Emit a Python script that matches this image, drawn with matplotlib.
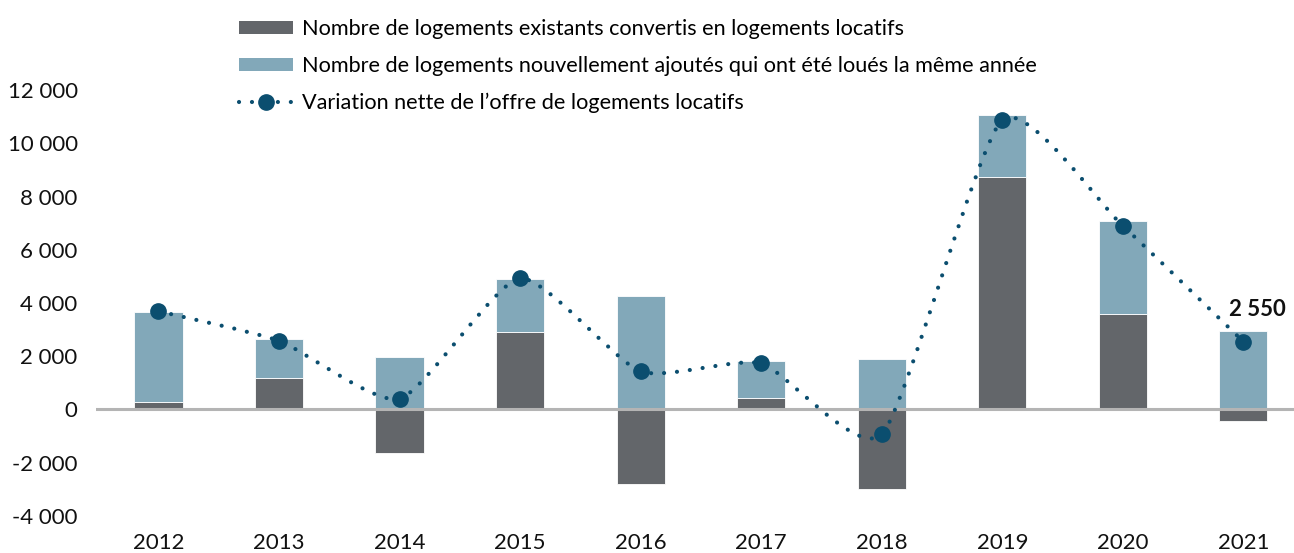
import matplotlib
matplotlib.use("Agg")
import matplotlib.pyplot as plt
import numpy as np
from matplotlib.lines import Line2D
from matplotlib.patches import Patch, PathPatch
from matplotlib.path import Path

plt.rcParams["font.family"] = ["Lato", "DejaVu Sans"]

years = ["2012", "2013", "2014", "2015", "2016", "2017", "2018", "2019", "2020", "2021"]
existing = [280, 1190, -1640, 2910, -2800, 420, -2990, 8750, 3600, -450]
new_rented = [3400, 1470, 1970, 2010, 4260, 1390, 1880, 2300, 3470, 2950]
net_change = [3690, 2580, 400, 4930, 1430, 1730, -930, 10880, 6900, 2550]

labels = [
    "Nombre de logements existants convertis en logements locatifs",
    "Nombre de logements nouvellement ajoutés qui ont été loués la même année",
    "Variation nette de l\u2019offre de logements locatifs",
]

DARK = "#63666a"
LIGHT = "#82a8b9"
LINE = "#0b4e6f"

fig = plt.figure(figsize=(12.94, 5.53), dpi=100)
ax = fig.add_axes([0.074, 0.067, 0.926, 0.77])

x = np.arange(len(years))
width = 0.40
base = np.clip(existing, 0, None)

ax.bar(x, existing, width, color=DARK, edgecolor="white", linewidth=0.6, zorder=2)
ax.bar(x, new_rented, width, bottom=base, color=LIGHT, edgecolor="white", linewidth=0.6, zorder=2)
ax.axhline(0, color="#b4b4b4", linewidth=2.2, zorder=3)

# lightly smoothed dotted line through the data points
pts = np.column_stack([x, net_change]).astype(float)
k = 1 / 10
verts = [pts[0]]
codes = [Path.MOVETO]
for i in range(len(pts) - 1):
    p0 = pts[max(i - 1, 0)]
    p1 = pts[i]
    p2 = pts[i + 1]
    p3 = pts[min(i + 2, len(pts) - 1)]
    verts += [p1 + (p2 - p0) * k, p2 - (p3 - p1) * k, p2]
    codes += [Path.CURVE4] * 3
curve = PathPatch(Path(verts, codes), facecolor="none", edgecolor=LINE, linewidth=3,
                  linestyle=(0, (0.01, 3.1)), capstyle="round", zorder=4)
ax.add_patch(curve)
ax.plot(x, net_change, linestyle="none", marker="o", markersize=11,
        color=LINE, zorder=5)

ax.annotate("2 550", (x[-1], net_change[-1]), xytext=(10, 23), textcoords="offset points",
            ha="center", va="center", fontsize=16, fontweight="bold", color="#111111")

ax.set_xlim(-0.52, 9.42)
ax.set_ylim(-4000, 12000)
ax.set_yticks(range(-4000, 12001, 2000))
ax.set_yticklabels([f"{v:,}".replace(",", " ") for v in range(-4000, 12001, 2000)])
ax.set_xticks(x)
ax.set_xticklabels(years)
ax.tick_params(axis="both", length=0, labelsize=16, colors="#111111")
ax.tick_params(axis="x", pad=12)
ax.tick_params(axis="y", pad=13)
for s in ax.spines.values():
    s.set_visible(False)

handles = [
    Patch(facecolor=DARK, edgecolor="none"),
    Patch(facecolor=LIGHT, edgecolor="none"),
    Line2D([], [], color=LINE, linewidth=3, linestyle=(0, (0.01, 3.1)),
           dash_capstyle="round", marker="o", markersize=11),
]
fig.legend(handles, labels, loc="upper left", bbox_to_anchor=(0.1765, 0.985),
           frameon=False, fontsize=15.6, handlelength=2.5, handleheight=0.6,
           handletextpad=0.4, labelspacing=0.78, borderpad=0)

fig.savefig("out.png", dpi=100)
